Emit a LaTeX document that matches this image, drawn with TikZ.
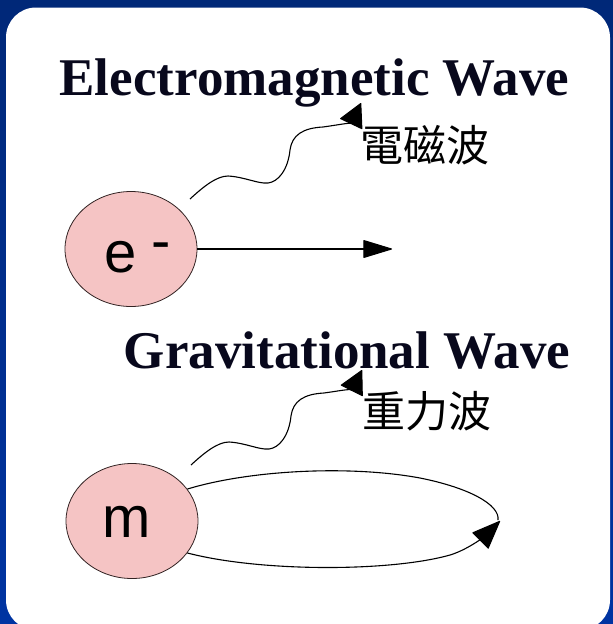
\documentclass[tikz,border=0pt]{standalone}
\usepackage{fontspec}
\setmainfont{Liberation Serif}
\newfontfamily\arialf{Liberation Sans}
\newfontfamily\cjk{Noto Sans CJK TC}
\usetikzlibrary{arrows.meta,shapes.geometric}
\definecolor{bgtop}{RGB}{0,40,120}
\definecolor{bgbot}{RGB}{0,52,162}
\definecolor{pinkfill}{RGB}{245,196,196}
\definecolor{rimc}{RGB}{50,35,35}
\definecolor{titlec}{RGB}{8,8,28}
\tikzset{
  particle/.style={ellipse, draw=rimc, line width=0.8pt, fill=pinkfill, inner sep=0pt, minimum width=132pt, minimum height=115pt},
  titletext/.style={inner sep=0pt, anchor=base, text=titlec, font=\bfseries\fontsize{53}{60}\selectfont},
  cjktext/.style={inner sep=0pt, anchor=base, font=\cjk\fontsize{43}{50}\selectfont},
  symtext/.style={inner sep=0pt, anchor=base, font=\arialf\fontsize{58}{70}\selectfont},
  conn/.style={line width=1.1pt, black},
  straightarrow/.style={conn, -{Triangle[length=30pt,width=18pt,round]}},
  wavearrow/.style={conn, -{Triangle[length=24pt,width=25pt,round]}},
  orbitarrow/.style={conn, -{Triangle[length=29pt,width=23pt,round]}}
}
\begin{document}
\begin{tikzpicture}[x=1pt,y=-1pt]
\useasboundingbox (0,0) rectangle (613,624);
\shade[top color=bgtop, bottom color=bgbot] (0,0) rectangle (613,624);
\fill[white, rounded corners=30pt] (6,7.5) rectangle (610,630);

% titles
\node[titletext] (emtitle) at (314.5,95) {Electromagnetic Wave};
\node[titletext] (gwtitle) at (347,368) {Gravitational Wave};
\node[cjktext] (emcjk) at (425,161.5) {電磁波};
\node[cjktext] (gwcjk) at (427,427.5) {重力波};

% particles
\node[particle] (e) at (131,249) {};
\node[symtext] (elabel) at (121,272) {e};
\node[symtext] (eminus) at (161,260) {-};
\node[particle] (m) at (132,521) {};
\node[symtext] (mlabel) at (126.5,537) {m};

% electron straight arrow
\coordinate (eend) at (392,249);
\draw[straightarrow] (e.east) -- (eend);

% electromagnetic wave
\coordinate (ws1) at (190,199);
\coordinate (wt1) at (361,103);
\draw[wavearrow] (ws1) .. controls (202,188) and (216,176) .. (228,176)
  .. controls (245,177) and (258,184) .. (268,183)
  .. controls (278,182) and (288,170) .. (290,150)
  .. controls (292,135) and (303,128) .. (323,127)
  .. controls (338,125) and (352,122) .. (wt1);

% gravitational wave
\coordinate (ws2) at (191,465);
\coordinate (wt2) at (362,370);
\draw[wavearrow] (ws2) .. controls (203,454) and (217,442) .. (229,442)
  .. controls (246,443) and (259,450) .. (269,449)
  .. controls (279,448) and (289,436) .. (291,416)
  .. controls (293,401) and (304,394) .. (324,393)
  .. controls (339,391) and (353,388) .. (wt2);

% orbit
\coordinate (orbR) at (498,520);
\coordinate (orbT) at (500,521);
\draw[conn] (m.30) .. controls (250,470) and (350,465) .. (420,478)
  .. controls (470,488) and (500,505) .. (orbR);
\draw[orbitarrow] (m.-30) .. controls (260,572) and (390,572) .. (450,555)
  .. controls (470,549) and (488,533) .. (orbT);
\end{tikzpicture}
\end{document}
